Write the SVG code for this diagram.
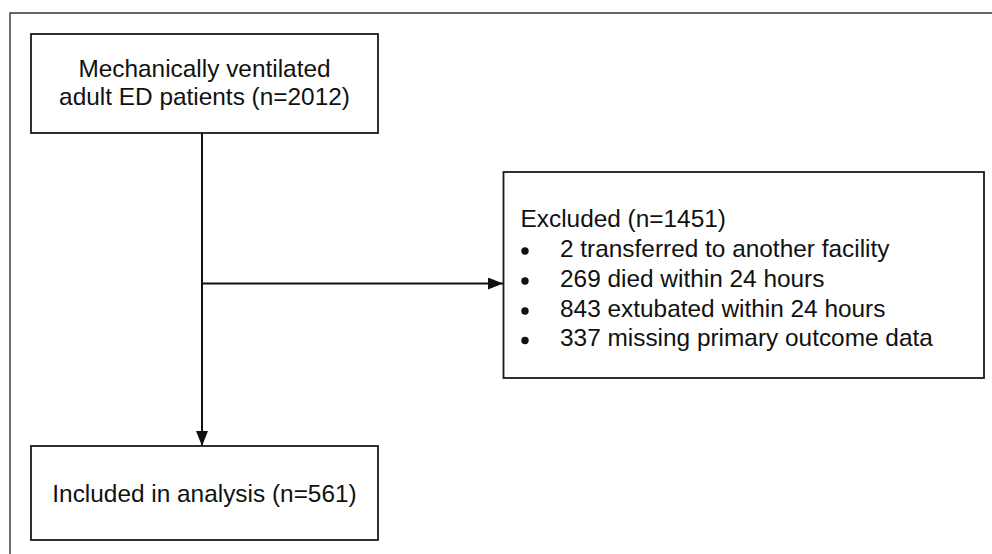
<svg xmlns="http://www.w3.org/2000/svg" width="992" height="554" viewBox="0 0 992 554">
<style>
.box{fill:#fff;stroke:#1a1a1a;stroke-width:1.8}
.frame{fill:none;stroke:#333;stroke-width:1.4}
.edge{fill:none;stroke:#111;stroke-width:2}
.dot{fill:#111}
text{font-family:"Liberation Sans",Arial,Helvetica,sans-serif;font-size:24.4px;fill:#111}
.c{text-anchor:middle}
</style>
<defs>
<marker id="ah" viewBox="0 0 15 12" refX="15" refY="6" markerWidth="15" markerHeight="12" markerUnits="userSpaceOnUse" orient="auto">
<path d="M0,0 L15,6 L0,12 Z" fill="#111"/>
</marker>
</defs>
<path class="frame" d="M10,554 L10,13 L992,13"/>
<g id="connectors">
<path class="edge" d="M202,133 L202,446" marker-end="url(#ah)"/>
<path class="edge" d="M202,283.5 L503,283.5" marker-end="url(#ah)"/>
</g>
<g id="n-start">
<rect class="box" x="31" y="34" width="347" height="99"/>
<text class="c" x="204.5" y="77">Mechanically ventilated</text>
<text class="c" x="204.5" y="105">adult ED patients (n=2012)</text>
</g>
<g id="n-excluded">
<rect class="box" x="503.5" y="172" width="480.5" height="206"/>
<text x="520.5" y="227">Excluded (n=1451)</text>
<circle class="dot" cx="525" cy="251" r="3.7"/><text x="560" y="256.5">2 transferred to another facility</text>
<circle class="dot" cx="525" cy="281" r="3.7"/><text x="560" y="286.5">269 died within 24 hours</text>
<circle class="dot" cx="525" cy="311" r="3.7"/><text x="560" y="316.5">843 extubated within 24 hours</text>
<circle class="dot" cx="525" cy="340.5" r="3.7"/><text x="560" y="346">337 missing primary outcome data</text>
</g>
<g id="n-included">
<rect class="box" x="31" y="446" width="347" height="94"/>
<text class="c" x="204.5" y="501.5">Included in analysis (n=561)</text>
</g>
</svg>
